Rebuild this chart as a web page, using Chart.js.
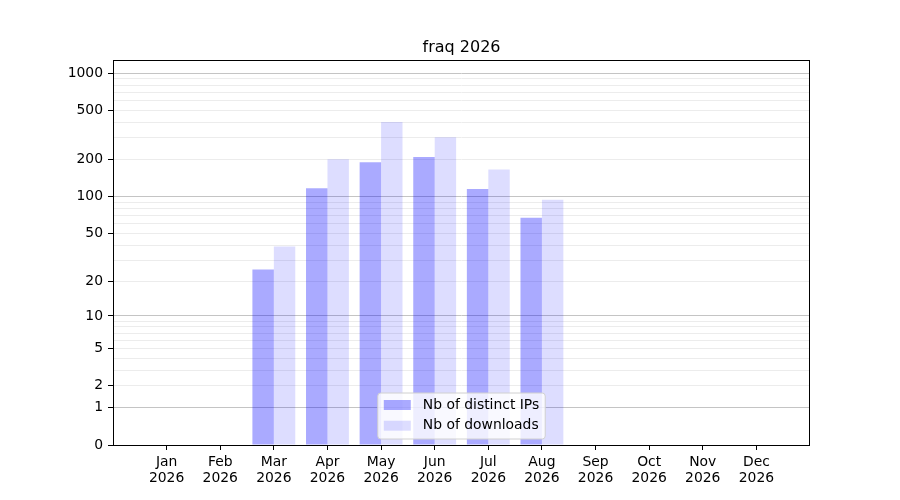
<!DOCTYPE html>
<html>
<head>
<meta charset="utf-8">
<title>fraq 2026</title>
<script src="https://cdn.jsdelivr.net/npm/chart.js@4.4.1/dist/chart.umd.min.js"></script>
<style>
  html, body { margin: 0; padding: 0; background: #fff; }
  #wrap { width: 900px; height: 500px; }
</style>
</head>
<body>
<div id="wrap"><canvas id="barChart"></canvas></div>
<script>
// values
const months = ['Jan', 'Feb', 'Mar', 'Apr', 'May', 'Jun', 'Jul', 'Aug', 'Sep', 'Oct', 'Nov', 'Dec'];
const year = '2026';
const distinctIps = [0, 0, 25, 117, 190, 209, 115, 67, 0, 0, 0, 0];
const downloads = [0, 0, 39, 201, 402, 303, 166, 94, 0, 0, 0, 0];

// y axis is log10(v + 1)
const yTickLabels = [0, 1, 2, 5, 10, 20, 50, 100, 200, 500, 1000];
const yMajorLines = [1, 10, 100, 1000];
const yMinorLines = [3, 4, 6, 7, 8, 9, 30, 40, 60, 70, 80, 90, 300, 400, 600, 700, 800, 900];
const yTop = 1274;

const sl = v => Math.log10(v + 1);
const gridVals = [...new Set([...yTickLabels, ...yMinorLines])].sort((a, b) => a - b);

// one empty slot at each end, like the reference's margins
const labels = [''].concat(months.map(m => [m, year]), ['']);
const pad = arr => [null].concat(arr.map(sl), [null]);

Chart.defaults.font.family = '"DejaVu Sans", sans-serif';
Chart.defaults.font.size = 13.9;
Chart.defaults.color = '#000';

const frame = {
  id: 'frame',
  afterDatasetsDraw(chart) {
    const { ctx, chartArea: a } = chart;
    ctx.save();
    ctx.strokeStyle = '#000';
    ctx.lineWidth = 1;
    ctx.strokeRect(Math.round(a.left) + 0.5, Math.round(a.top) + 0.5,
      Math.round(a.right - a.left) - 1, Math.round(a.bottom - a.top));
    ctx.restore();
  }
};

const boxLegend = {
  id: 'boxLegend',
  afterDatasetsDraw(chart) {
    const { ctx, chartArea: a } = chart;
    const items = chart.data.datasets;
    ctx.save();
    ctx.font = '13.9px "DejaVu Sans", sans-serif';
    const textW = Math.max(...items.map(d => ctx.measureText(d.label).width));
    const w = 6 + 27 + 12 + textW + 6;
    const h = 46;
    const x = (a.left + a.right) / 2 - w / 2;
    const y = a.bottom - 6 - h;
    ctx.beginPath();
    ctx.roundRect(x, y, w, h, 3);
    ctx.fillStyle = 'rgba(255,255,255,0.8)';
    ctx.fill();
    ctx.strokeStyle = '#d0d0d0';
    ctx.lineWidth = 1;
    ctx.stroke();
    items.forEach((d, i) => {
      const rowY = y + 7 + i * 20.7;
      ctx.fillStyle = d.backgroundColor;
      ctx.fillRect(x + 6, rowY, 27, 10);
      ctx.fillStyle = '#000';
      ctx.textBaseline = 'middle';
      ctx.textAlign = 'left';
      ctx.fillText(d.label, x + 6 + 27 + 12, rowY + 5);
    });
    ctx.restore();
  }
};

const ctx = document.getElementById('barChart').getContext('2d');
new Chart(ctx, {
  type: 'bar',
  data: {
    labels: labels,
    datasets: [{
      label: 'Nb of distinct IPs',
      data: pad(distinctIps),
      backgroundColor: 'rgba(0, 0, 255, 0.333)',
      borderWidth: 0
    }, {
      label: 'Nb of downloads',
      data: pad(downloads),
      backgroundColor: 'rgba(0, 0, 255, 0.135)',
      borderWidth: 0
    }]
  },
  options: {
    responsive: true,
    maintainAspectRatio: false,
    animation: false,
    layout: { padding: { left: 0, right: 90, top: 0, bottom: 0 } },
    datasets: { bar: { barPercentage: 1.0, categoryPercentage: 0.8 } },
    plugins: {
      legend: { display: false },
      tooltip: { enabled: false },
      title: {
        display: true,
        fullSize: false,
        text: 'fraq 2026',
        color: '#000',
        font: { size: 16, weight: 'normal' },
        padding: { top: 38.4, bottom: 2.4 }
      }
    },
    scales: {
      x: {
        offset: false,
        border: { display: false },
        grid: {
          offset: false,
          drawOnChartArea: false,
          drawTicks: true,
          tickLength: 5,
          tickColor: c => (c.index === 0 || c.index === labels.length - 1) ? 'rgba(0,0,0,0)' : '#000'
        },
        ticks: { autoSkip: false, maxRotation: 0, padding: 4, font: { lineHeight: 1.15 } },
        afterFit: s => { s.height = 55; }
      },
      y: {
        type: 'linear',
        bounds: 'data',
        min: 0,
        max: sl(yTop),
        border: { display: false },
        grid: {
          drawTicks: true,
          tickLength: 5,
          lineWidth: 1,
          color: c => {
            const v = gridVals[c.index];
            if (v === 0) return 'rgba(0,0,0,0)';
            return yMajorLines.includes(v) ? '#c4c4c4' : '#ececec';
          },
          tickColor: c => yTickLabels.includes(gridVals[c.index]) ? '#000' : 'rgba(0,0,0,0)'
        },
        ticks: {
          autoSkip: false,
          padding: 5,
          callback: (val, i) => yTickLabels.includes(gridVals[i]) ? String(gridVals[i]) : ''
        },
        afterBuildTicks: s => { s.ticks = gridVals.map(v => ({ value: sl(v) })); },
        afterFit: s => { s.width = 113; }
      }
    }
  },
  plugins: [frame, boxLegend]
});
</script>
</body>
</html>
